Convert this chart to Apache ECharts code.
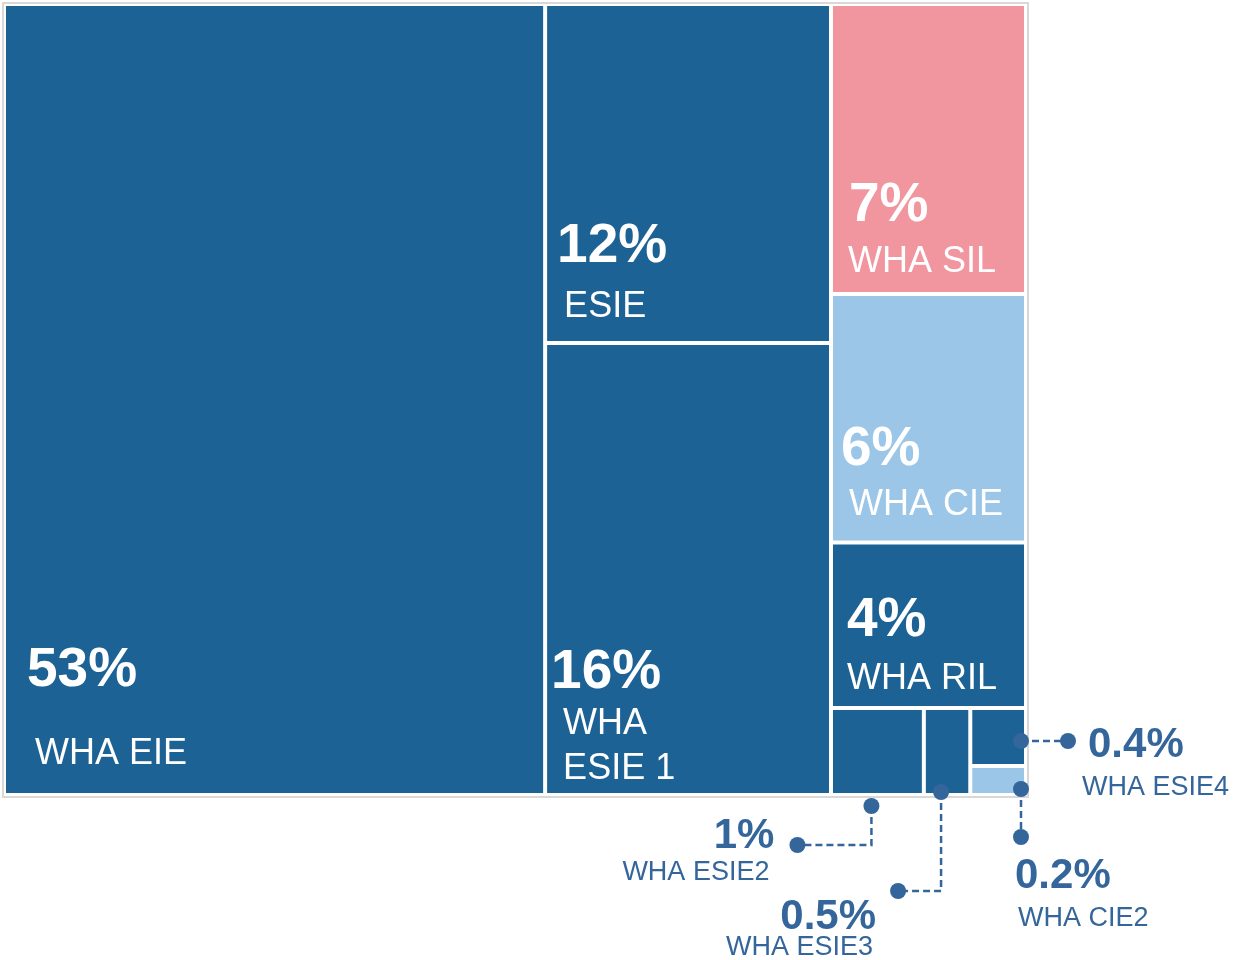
<!DOCTYPE html>
<html>
<head>
<meta charset="utf-8">
<script src="https://cdn.jsdelivr.net/npm/echarts@6/dist/echarts.min.js"></script>
<style>
    html, body { margin: 0; padding: 0; background: #fff; }
    #share-map { width: 1235px; height: 960px; }
</style>
</head>
<body>
<div id="share-map"></div>
<script>
var names = ['WHA EIE', 'ESIE', 'WHA ESIE 1', 'WHA SIL', 'WHA CIE 1', 'WHA RIL',
             'WHA ESIE2', 'WHA ESIE3', 'WHA ESIE4', 'WHA CIE2'];
var shares = [53, 12, 16, 7, 6, 4, 1, 0.5, 0.4, 0.2];
// nesting of the blocks, as indexes into names
var blocks = [[0, [1, 2]], [3, 4, 5, 6, 7, 8, 9]];

var DARK = '#1d6294';
var INK = '#34669b';
var FONT = "'Liberation Sans', Arial, sans-serif";
var fills = { 'WHA SIL': '#f1959f', 'WHA CIE 1': '#9bc6e8', 'WHA CIE2': '#9bc6e8' };
var box = { left: 6, top: 6, width: 1018, height: 787 };

// label offsets from the bottom-left corner of each big cell
var labelPlace = {
    'WHA EIE': { pct: [21, -103], name: [29, -26] },
    'ESIE': { pct: [10, -75], name: [17, -21] },
    'WHA ESIE 1': { pct: [4, -101], name: [16, -56], wrap: true },
    'WHA SIL': { pct: [16, -67], name: [15, -17] },
    'WHA CIE 1': { pct: [8, -71], name: [16, -23] },
    'WHA RIL': { pct: [14, -66], name: [14, -14] }
};

function build(list) {
    return list.map(function (item) {
        if (Array.isArray(item)) {
            return { name: '', children: build(item) };
        }
        return {
            name: names[item],
            value: shares[item],
            itemStyle: { color: fills[names[item]] || DARK }
        };
    });
}

var chart = echarts.init(document.getElementById('share-map'));
chart.setOption({
    animation: false,
    series: [{
        type: 'treemap',
        left: box.left,
        top: box.top,
        width: box.width,
        height: box.height,
        roam: false,
        nodeClick: false,
        silent: true,
        sort: false,
        squareRatio: 0.8,
        breadcrumb: { show: false },
        label: { show: false },
        upperLabel: { show: false },
        itemStyle: { borderWidth: 0, gapWidth: 4, borderColor: '#fff' },
        data: build(blocks)
    }]
});

// absolute rectangles of the leaf cells, read back from the treemap layout
function cellRects() {
    var series = chart.getModel().getSeriesByIndex(0);
    var tree = series.getData().tree;
    var info = series.layoutInfo || { x: box.left, y: box.top };
    var out = {};
    (function walk(node, ox, oy) {
        var l = node.getLayout() || {};
        var x = ox + (l.x || 0), y = oy + (l.y || 0);
        if (!node.children || !node.children.length) {
            out[node.name] = { x: x, y: y, w: l.width, h: l.height };
        }
        (node.children || []).forEach(function (c) { walk(c, x, y); });
    })(tree.root, info.x, info.y);
    return out;
}

function text(str, x, base, size, opts) {
    opts = opts || {};
    var lh = opts.lineHeight || size;
    var style = {
        text: str,
        fontSize: size,
        fontWeight: opts.bold ? 'bold' : 'normal',
        fontFamily: FONT,
        fill: opts.color || '#fff',
        lineHeight: lh,
        align: opts.align || 'left',
        verticalAlign: 'top'
    };
    if (opts.width) {
        style.width = opts.width;
        style.overflow = 'truncate';
        style.ellipsis = '';
    }
    return { type: 'text', z: 100, x: x, y: base - lh / 2 - 0.35 * size, style: style };
}

function dot(x, y) {
    return { type: 'circle', z: 100, shape: { cx: x, cy: y, r: 8 }, style: { fill: INK } };
}

function dashed(pts) {
    return {
        type: 'polyline', z: 99, shape: { points: pts },
        style: { stroke: INK, lineWidth: 2.5, lineDash: [7, 4], fill: null }
    };
}

var rects = cellRects();
var B = box.top + box.height;
var els = [];

// light frame around the map
els.push({
    type: 'rect', z: 1,
    shape: { x: box.left - 3, y: box.top - 3, width: box.width + 7, height: box.height + 7 },
    style: { fill: null, stroke: '#d8d8d8', lineWidth: 2 }
});

names.forEach(function (n, i) {
    var p = labelPlace[n], r = rects[n];
    if (!p || !r) return;
    var x0 = r.x, y0 = r.y + r.h;
    els.push(text(shares[i] + '%', x0 + p.pct[0], y0 + p.pct[1], 55, { bold: true }));
    if (p.wrap) {
        els.push(text(n.replace(' ', '\n'), x0 + p.name[0], y0 + p.name[1], 36, { lineHeight: 45 }));
    } else {
        els.push(text(n, x0 + p.name[0], y0 + p.name[1], 36, { width: r.w - p.name[0] }));
    }
});

// callouts for the tiny cells
var calloutShape = {
    'WHA ESIE2': function (r) {
        var ax = r.x + r.w / 2 - 6, ay = B + 13, ey = B + 52, ex = ax - 74;
        return { pts: [[ax, ay], [ax, ey], [ex, ey]], align: 'right',
                 pct: [ex - 23, ey + 6], name: [ex - 28, ey + 37] };
    },
    'WHA ESIE3': function (r) {
        var ax = r.x + r.w / 2 - 6, ay = r.y + r.h - 1, ey = B + 98, ex = ax - 43;
        return { pts: [[ax, ay], [ax, ey], [ex, ey]], align: 'right',
                 pct: [ex - 22, ey + 41], name: [ex - 25, ey + 66] };
    },
    'WHA ESIE4': function (r) {
        var ax = r.x + r.w - 3, ay = r.y + r.h / 2 + 4, ex = ax + 47;
        return { pts: [[ax, ay], [ex, ay]], align: 'left',
                 pct: [ex + 20, ay + 19], name: [ex + 14, ay + 56] };
    },
    'WHA CIE2': function (r) {
        var ax = r.x + r.w - 3, ay = r.y + r.h - 4, ey = ay + 48;
        return { pts: [[ax, ay], [ax, ey]], align: 'left',
                 pct: [ax - 6, ey + 54], name: [ax - 3, ey + 91] };
    }
};

names.forEach(function (n, i) {
    var f = calloutShape[n], r = rects[n];
    if (!f || !r) return;
    var c = f(r);
    var first = c.pts[0], last = c.pts[c.pts.length - 1];
    els.push(dashed(c.pts));
    els.push(dot(first[0], first[1]));
    els.push(dot(last[0], last[1]));
    els.push(text(shares[i] + '%', c.pct[0], c.pct[1], 42, { bold: true, color: INK, align: c.align }));
    els.push(text(n, c.name[0], c.name[1], 27, { color: INK, align: c.align }));
});

chart.setOption({ graphic: { elements: els } });
</script>
</body>
</html>
